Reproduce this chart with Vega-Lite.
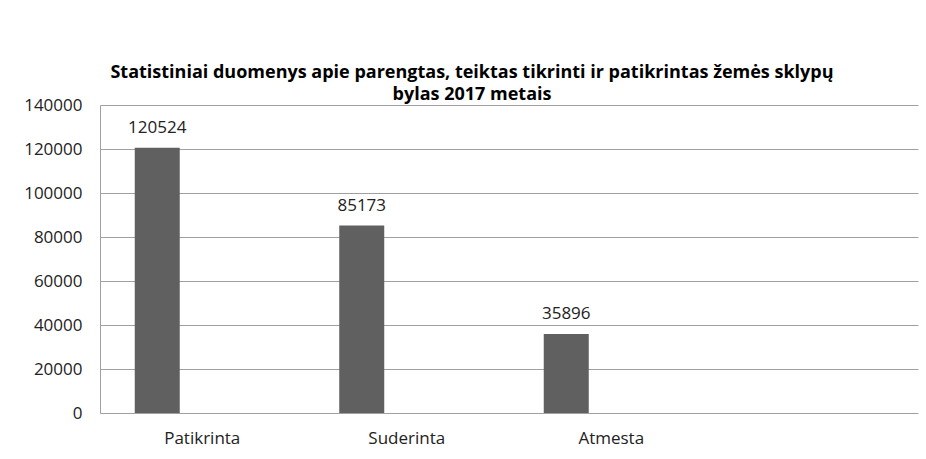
{
  "$schema": "https://vega.github.io/schema/vega-lite/v6.json",
  "width": 818,
  "height": 308,
  "autosize": {"type": "none"},
  "padding": {"left": 100, "top": 105, "right": 8, "bottom": 46},
  "background": "white",
  "title": {
    "text": ["Statistiniai duomenys apie parengtas, teiktas tikrinti ir patikrintas žemės sklypų", "bylas 2017 metais"],
    "font": "Open Sans",
    "fontSize": 18,
    "fontWeight": "bold",
    "color": "#000000",
    "anchor": "middle",
    "dx": -37,
    "dy": 10,
    "offset": 2,
    "lineHeight": 22
  },
  "data": {
    "values": [
      {"kategorija": "Patikrinta", "serija": "A", "reiksme": 120524},
      {"kategorija": "Suderinta", "serija": "A", "reiksme": 85173},
      {"kategorija": "Atmesta", "serija": "A", "reiksme": 35896}
    ]
  },
  "encoding": {
    "x": {
      "field": "kategorija",
      "type": "nominal",
      "scale": {"domain": ["Patikrinta", "Suderinta", "Atmesta", "x4"], "paddingInner": 0, "paddingOuter": 0},
      "axis": {
        "title": null,
        "labelExpr": "datum.value == 'x4' ? '' : datum.label",
        "labelAngle": 0,
        "domain": false,
        "ticks": false,
        "labelPadding": 17,
        "labelFont": "Open Sans",
        "labelFontSize": 17,
        "labelColor": "#222222"
      }
    },
    "xOffset": {
      "field": "serija",
      "type": "nominal",
      "scale": {"domain": ["A", "B", "C"], "paddingInner": 0, "paddingOuter": 0.772}
    },
    "y": {
      "field": "reiksme",
      "type": "quantitative",
      "scale": {"domain": [0, 140000], "nice": false},
      "axis": {
        "title": null,
        "values": [0, 20000, 40000, 60000, 80000, 100000, 120000, 140000],
        "format": "d",
        "grid": true,
        "gridColor": "#a0a0a0",
        "gridWidth": 1,
        "domain": true,
        "domainColor": "#a0a0a0",
        "ticks": false,
        "labelPadding": 18,
        "labelFont": "Open Sans",
        "labelFontSize": 17,
        "labelColor": "#222222"
      }
    }
  },
  "layer": [
    {"mark": {"type": "bar", "color": "#606060"}},
    {
      "mark": {"type": "text", "baseline": "alphabetic", "dy": -15, "font": "Open Sans", "fontSize": 17, "color": "#222222"},
      "encoding": {"text": {"field": "reiksme", "type": "quantitative", "format": "d"}}
    }
  ],
  "config": {"view": {"stroke": null}}
}
